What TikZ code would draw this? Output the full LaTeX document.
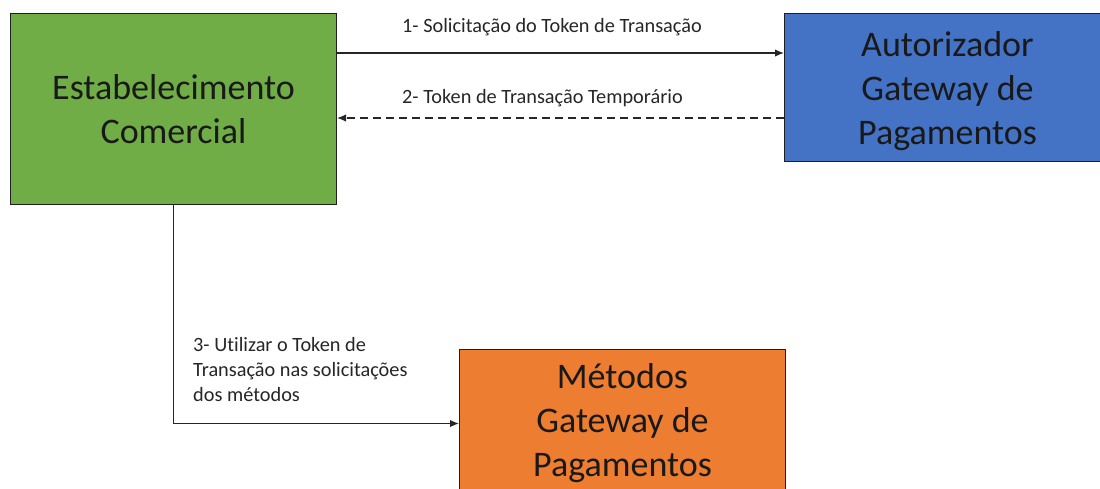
\documentclass[tikz,border=0pt]{standalone}
\usepackage{fontspec}
\setmainfont[Ligatures=NoCommon]{Carlito}
\usetikzlibrary{arrows.meta}
\definecolor{boxgreen}{HTML}{70AD47}
\definecolor{boxblue}{HTML}{4472C4}
\definecolor{boxorange}{HTML}{ED7D31}
\definecolor{edgegray}{HTML}{1F1F1F}
\tikzset{
  bigbox/.style={draw=edgegray, line width=1pt, anchor=north west, minimum width=326pt, inner sep=0pt,
    align=center, font=\fontsize{36}{44}\selectfont, text=black!90},
  lbl/.style={font=\fontsize{20.3}{25}\selectfont, text=black!85, inner sep=0pt, align=left},
  arr/.style={line width=1.4pt, draw=black!85, -{Latex[length=9pt,width=7.5pt]}},
  darr/.style={arr, dash pattern=on 8pt off 5pt},
}
\begin{document}
\begin{tikzpicture}[x=1pt,y=-1pt]
\useasboundingbox (0,0) rectangle (1100,488);
\fill[white] (0,0) rectangle (1100,488);
\node[bigbox, fill=boxgreen, minimum height=191pt] (green) at (10,13) {Estabelecimento\\Comercial};
\node[bigbox, fill=boxblue, minimum height=148pt, text depth=-8pt] (blue) at (784,13) {Autorizador\\Gateway de\\Pagamentos};
\node[bigbox, fill=boxorange, minimum height=148pt] (orange) at (459,349) {Métodos\\Gateway de\\Pagamentos};
\draw[arr] ([yshift=-40pt]green.north east) -- ([yshift=-40pt]blue.north west);
\draw[darr] ([yshift=-105pt]blue.north west) -- ([yshift=-105pt]green.north east);
\draw[arr] (green.south) |- (orange.west);
\node[lbl, anchor=west] (l1) at (402,27) {1- Solicitação do Token de Transação};
\node[lbl, anchor=west] (l2) at (402,98) {2- Token de Transação Temporário};
\node[lbl, anchor=north west] (l3) at (193,337) {3- Utilizar o Token de\\Transação nas solicitações\\dos métodos};
\end{tikzpicture}
\end{document}
